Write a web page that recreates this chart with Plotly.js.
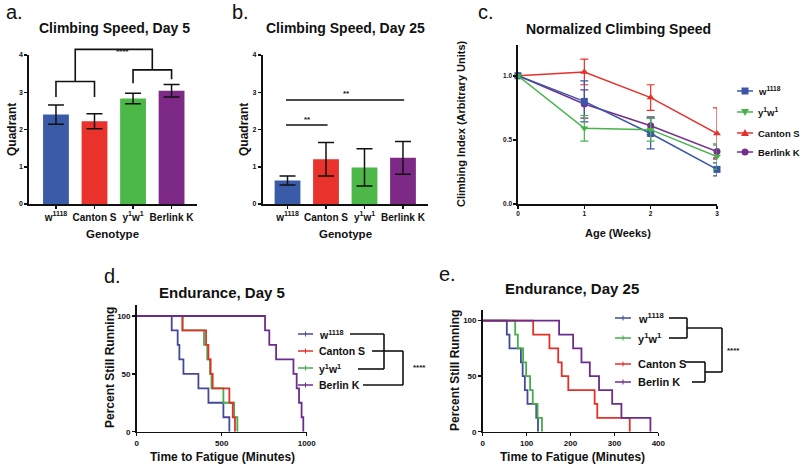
<!DOCTYPE html>
<html><head><meta charset="utf-8">
<script src="https://cdn.plot.ly/plotly-3.0.1.min.js"></script>
<style>html,body{margin:0;padding:0;background:#fff}#chart{width:800px;height:465px}</style>
</head><body><div id="chart"></div>
<script>
// ---------- data ----------
const genotypes = ['w<sup>1118</sup>','Canton S','y<sup>1</sup>w<sup>1</sup>','Berlink K'];
const barColors = ['#3a5ba8','#e8322b','#4cb848','#7c2a85'];
const day5Mean = [2.40,2.22,2.83,3.04];
const day5Err  = [0.26,0.20,0.14,0.17];
const day25Mean = [0.63,1.20,0.98,1.24];
const day25Err  = [0.12,0.45,0.50,0.44];

const weeks = [0,1,2,3];
const normW1118 = [1.0,0.80,0.55,0.27];
const normW1118Err = [0,0.16,0.12,0.05];
const normY1w1 = [1.0,0.59,0.58,0.37];
const normY1w1Err = [0,0.10,0.09,0.10];
const normCantonS = [1.0,1.03,0.83,0.55];
const normCantonSErr = [0,0.10,0.10,0.20];
const normBerlinK = [1.0,0.78,0.61,0.41];
const normBerlinKErr = [0,0.11,0.07,0.05];

const survLevels = [100,87.5,75,62.5,50,37.5,25,12.5,0];
const d5_w1118   = [0,206,241,251,275,363,422,510,545];
const d5_cantonS = [0,269,408,422,435,447,545,565,578];
const d5_y1w1    = [0,270,396,415,431,440,510,573,592];
const d5_berlinK = [0,755,780,820,922,941,955,970,980];
const d25_w1118   = [0,55,61,87,91,96,102,122,126];
const d25_y1w1    = [0,74,80,92,99,108,114,125,135];
const d25_cantonS = [0,115,152,172,180,195,255,261,335];
const d25_berlinK = [0,174,206,225,244,265,295,316,382];

const cBlue='#3b56a6', cRed='#e5312a', cGreen='#48b34a', cPurple='#74308c';
const sBlue='#43489c', sRed='#e2302a', sGreen='#46ad4a', sPurple='#6c2c8c';

// ---------- helpers ----------
const W=800,H=465;
const FONT='Liberation Sans, Arial, Helvetica, sans-serif';
const X=p=>p/W, Y=p=>1-p/H;
const PA={x0:29,x1:197,xr:[-0.7,3.66],y0:204,y1:55,yr:[0,4]};
const mapX=(P,v)=>X(P.x0+(v-P.xr[0])/(P.xr[1]-P.xr[0])*(P.x1-P.x0));
const mapY=(P,v)=>Y(P.y0-(v-P.yr[0])/(P.yr[1]-P.yr[0])*(P.y0-P.y1));
const bf=(size)=>({family:FONT,size:size,color:'#111',weight:'bold'});

const axBase={showline:true,linecolor:'#111',linewidth:1.6,ticks:'outside',ticklen:3,tickwidth:1.5,
  tickcolor:'#111',showgrid:false,zeroline:false,fixedrange:true,tickfont:bf(7)};
function ax(o){return Object.assign({},axBase,o);}

// ---------- traces ----------
const traces=[];
traces.push({type:'bar',x:[0,1,2,3],y:day5Mean,width:0.67,marker:{color:barColors},
  error_y:{type:'data',array:day5Err,color:'#111',thickness:1.5,width:8},xaxis:'x',yaxis:'y',showlegend:false,hoverinfo:'none'});
traces.push({type:'bar',x:[0,1,2,3],y:day25Mean,width:0.67,marker:{color:barColors},
  error_y:{type:'data',array:day25Err,color:'#111',thickness:1.5,width:8},xaxis:'x2',yaxis:'y2',showlegend:false,hoverinfo:'none'});

function lineTrace(y,err,color,symbol){
  return {type:'scatter',mode:'lines+markers',x:weeks,y:y,cliponaxis:false,
    line:{color:color,width:1.5},marker:{color:color,size:7,symbol:symbol},
    error_y:{type:'data',array:err,color:color,thickness:1.2,width:4},
    xaxis:'x3',yaxis:'y3',showlegend:false,hoverinfo:'none'};
}
traces.push(lineTrace(normCantonS,normCantonSErr,cRed,'triangle-up'));
traces.push(lineTrace(normBerlinK,normBerlinKErr,cPurple,'circle'));
traces.push(lineTrace(normW1118,normW1118Err,cBlue,'square'));
traces.push(lineTrace(normY1w1,normY1w1Err,cGreen,'triangle-down'));

function survTrace(t,color,xa,ya){
  return {type:'scatter',mode:'lines',x:t,y:survLevels,line:{shape:'hv',color:color,width:1.8},
    xaxis:xa,yaxis:ya,showlegend:false,hoverinfo:'none',cliponaxis:false};
}
traces.push(survTrace(d5_w1118,sBlue,'x4','y4'));
traces.push(survTrace(d5_y1w1,sGreen,'x4','y4'));
traces.push(survTrace(d5_cantonS,sRed,'x4','y4'));
traces.push(survTrace(d5_berlinK,sPurple,'x4','y4'));
traces.push(survTrace(d25_w1118,sBlue,'x5','y5'));
traces.push(survTrace(d25_y1w1,sGreen,'x5','y5'));
traces.push(survTrace(d25_cantonS,sRed,'x5','y5'));
traces.push(survTrace(d25_berlinK,sPurple,'x5','y5'));

// ---------- annotations & shapes ----------
const ann=[], shp=[];
function txt(x,y,text,size,opt,regular){
  const f=regular?{family:FONT,size:size,color:'#111'}:bf(size);
  ann.push(Object.assign({xref:'paper',yref:'paper',x:X(x),y:Y(y),text:text,showarrow:false,
    xanchor:'center',yanchor:'middle',font:f},opt||{}));
}
function seg(x0,y0,x1,y1,color,w){
  shp.push({type:'line',xref:'paper',yref:'paper',x0:X(x0),y0:Y(y0),x1:X(x1),y1:Y(y1),
    line:{color:color||'#111',width:w||1.6}});
}
// panel labels
txt(14,12,'a.',20,null,true); txt(240,12,'b.',20,null,true); txt(486,12,'c.',20,null,true);
txt(112,276,'d.',20,null,true); txt(447,274,'e.',20,null,true);
// titles
txt(115,28,'Climbing Speed, Day 5',14);
txt(345,28,'Climbing Speed, Day 25',14);
txt(618,29,'Normalized Climbing Speed',14);
txt(222,292,'Endurance, Day 5',15);
txt(572,288,'Endurance, Day 25',15);
// axis titles
txt(12,130,'Quadrant',12,{textangle:-90});
txt(113,234,'Genotype',11.5);
txt(244,130,'Quadrant',12,{textangle:-90});
txt(345,234,'Genotype',11.5);
txt(461,124,'Climbing Index (Arbitrary Units)',11,{textangle:-90});
txt(618,233,'Age (Weeks)',11);
txt(110,368,'Percent Still Running',12,{textangle:-90});
txt(222,457,'Time to Fatigue (Minutes)',12);
txt(455,371,'Percent Still Running',12,{textangle:-90});
txt(572,457,'Time to Fatigue (Minutes)',12);

// panel a significance brackets (paper coords from data mapping)
function pth(pts){
  return 'M'+pts.map(p=>mapX(PA,p[0])+','+mapY(PA,p[1])).join(' L');
}
shp.push({type:'path',xref:'paper',yref:'paper',path:pth([[0,2.87],[0,3.29],[1,3.29],[1,2.87]]),line:{color:'#111',width:1.6}});
shp.push({type:'path',xref:'paper',yref:'paper',path:pth([[2,3.24],[2,3.6],[3,3.6],[3,3.35]]),line:{color:'#111',width:1.6}});
shp.push({type:'path',xref:'paper',yref:'paper',path:pth([[0.5,3.29],[0.5,4.15],[2.5,4.15],[2.5,3.6]]),line:{color:'#111',width:1.6}});
ann.push({xref:'paper',yref:'paper',x:mapX(PA,1.5),y:mapY(PA,4.27),text:'****',showarrow:false,font:bf(8)});

// panel b lines
shp.push({type:'line',xref:'x2',yref:'y2',x0:-0.04,x1:1.04,y0:2.12,y1:2.12,line:{color:'#111',width:1.6}});
shp.push({type:'line',xref:'x2',yref:'y2',x0:-0.04,x1:3.03,y0:2.79,y1:2.79,line:{color:'#111',width:1.6}});
ann.push({xref:'x2',yref:'y2',x:0.53,y:2.27,text:'**',showarrow:false,font:bf(8)});
ann.push({xref:'x2',yref:'y2',x:1.52,y:2.96,text:'**',showarrow:false,font:bf(8)});

// panel c legend
const cLeg=[['w<sup>1118</sup>',cBlue,'sq',91],['y<sup>1</sup>w<sup>1</sup>',cGreen,'td',112],['Canton S',cRed,'tu',133],['Berlink K',cPurple,'ci',152]];
cLeg.forEach(r=>{
  const y=r[3], mx=745, s=3.5, col=r[1];
  seg(737,y,753,y,col,1.5);
  if(r[2]==='sq') shp.push({type:'rect',xref:'paper',yref:'paper',x0:X(mx-s),x1:X(mx+s),y0:Y(y+s),y1:Y(y-s),fillcolor:col,line:{width:0}});
  if(r[2]==='ci') shp.push({type:'circle',xref:'paper',yref:'paper',x0:X(mx-s),x1:X(mx+s),y0:Y(y+s),y1:Y(y-s),fillcolor:col,line:{width:0}});
  if(r[2]==='tu') shp.push({type:'path',xref:'paper',yref:'paper',path:`M${X(mx-4)},${Y(y+3)} L${X(mx+4)},${Y(y+3)} L${X(mx)},${Y(y-4)} Z`,fillcolor:col,line:{width:0}});
  if(r[2]==='td') shp.push({type:'path',xref:'paper',yref:'paper',path:`M${X(mx-4)},${Y(y-3)} L${X(mx+4)},${Y(y-3)} L${X(mx)},${Y(y+4)} Z`,fillcolor:col,line:{width:0}});
  txt(756,y,r[0],9.5,{xanchor:'left'});
});

// panel d legend + brackets
const dLeg=[['w<sup>1118</sup>',sBlue,334],['Canton S',sRed,351],['y<sup>1</sup>w<sup>1</sup>',sGreen,368],['Berlin K',sPurple,385]];
dLeg.forEach(r=>{
  seg(298,r[2],313,r[2],r[1],1.5); seg(305.5,r[2]-2.5,305.5,r[2]+2.5,r[1],1);
  txt(317,r[2],r[0],10.5,{xanchor:'left'});
});
seg(350,334,384,334); seg(358,369,384,369); seg(384,334,384,369);
seg(372,351,403,351); seg(363,385,403,385); seg(403,351,403,385);
txt(419,367,'****',8);

// panel e legend + brackets
const eLeg=[['w<sup>1118</sup>',sBlue,318],['y<sup>1</sup>w<sup>1</sup>',sGreen,338],['Canton S',sRed,364],['Berlin K',sPurple,382]];
eLeg.forEach(r=>{
  seg(615,r[2],631,r[2],r[1],1.5); seg(623,r[2]-2.5,623,r[2]+2.5,r[1],1);
  txt(636,r[2],r[0],11,{xanchor:'left'});
});
seg(669,318,687,318); seg(669,338,687,338); seg(687,318,687,338); seg(687,328,722,328);
seg(685,362,705,362); seg(692,382,705,382); seg(705,362,705,382); seg(705,372,722,372);
seg(722,328,722,372);
txt(733,350,'****',8);

// ---------- layout ----------
const layout={
  width:W,height:H,margin:{l:0,r:0,t:0,b:0},paper_bgcolor:'#fff',plot_bgcolor:'rgba(0,0,0,0)',
  showlegend:false,font:{family:FONT,color:'#111'},
  xaxis: ax({domain:[X(29),X(197)],range:PA.xr,tickmode:'array',tickvals:[0,1,2,3],
    ticktext:genotypes,tickfont:bf(10),anchor:'y'}),
  yaxis: ax({domain:[Y(204),Y(55)],range:[0,4],dtick:1,anchor:'x'}),
  xaxis2: ax({domain:[X(262.5),X(428)],range:[-0.65,3.65],tickmode:'array',tickvals:[0,1,2,3],
    ticktext:genotypes,tickfont:bf(10),anchor:'y2'}),
  yaxis2: ax({domain:[Y(204),Y(55)],range:[0,4],dtick:1,anchor:'x2'}),
  xaxis3: ax({domain:[X(518),X(717)],range:[0,3],tickvals:[0,1,2,3],tickmode:'array',anchor:'y3',tickfont:bf(6.5)}),
  yaxis3: ax({domain:[Y(204),Y(45)],range:[0,1.24],tickmode:'array',tickvals:[0,0.5,1],ticktext:['0.0','0.5','1.0'],anchor:'x3',tickfont:bf(6.5)}),
  xaxis4: ax({domain:[X(136.7),X(306.7)],range:[0,1000],tickmode:'array',tickvals:[0,500,1000],anchor:'y4',tickfont:bf(8)}),
  yaxis4: ax({domain:[Y(431.7),Y(305)],range:[0,109.5],tickmode:'array',tickvals:[0,50,100],anchor:'x4',tickfont:bf(8)}),
  xaxis5: ax({domain:[X(482.7),X(658.3)],range:[0,400],tickmode:'array',tickvals:[0,100,200,300,400],anchor:'y5',tickfont:bf(8)}),
  yaxis5: ax({domain:[Y(431.7),Y(310)],range:[0,109.6],tickmode:'array',tickvals:[0,50,100],anchor:'x5',tickfont:bf(8)}),
  annotations:ann, shapes:shp
};
Plotly.newPlot('chart',traces,layout,{staticPlot:true,displayModeBar:false});
</script></body></html>
